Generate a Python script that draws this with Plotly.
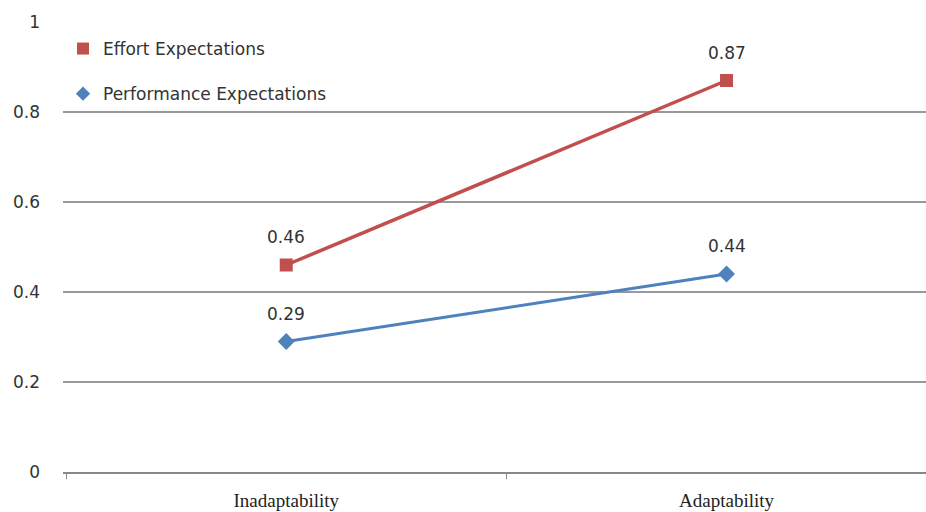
import plotly.graph_objects as go

categories = ["Inadaptability", "Adaptability"]
effort = [0.46, 0.87]
performance = [0.29, 0.44]
effort_name = "Effort Expectations"
perf_name = "Performance Expectations"
y_ticks = [0, 0.2, 0.4, 0.6, 0.8, 1]
y_tick_labels = ["0", "0.2", "0.4", "0.6", "0.8", "1"]

red = "#C0504D"
blue = "#4F81BD"

fig = go.Figure()
fig.add_trace(go.Scatter(
    x=categories, y=effort, name=effort_name, mode="lines+markers",
    line=dict(color=red, width=3.5),
    marker=dict(symbol="square", size=13, color=red),
    showlegend=False,
))
fig.add_trace(go.Scatter(
    x=categories, y=performance, name=perf_name, mode="lines+markers",
    line=dict(color=blue, width=3),
    marker=dict(symbol="diamond", size=13, color=blue),
    showlegend=False,
))
# legend entries (markers only, as in the reference)
fig.add_trace(go.Scatter(
    x=[None], y=[None], name=effort_name, mode="markers",
    marker=dict(symbol="square", size=12, color=red), legendgroup="e",
))
fig.add_trace(go.Scatter(
    x=[None], y=[None], name=perf_name, mode="markers",
    marker=dict(symbol="diamond", size=11, color=blue), legendgroup="p",
))

for vals in (effort, performance):
    for c, v in zip(categories, vals):
        fig.add_annotation(x=c, y=v, text=f"{v:.2f}", showarrow=False,
                           yshift=28, font=dict(family="DejaVu Sans", size=17, color="#333"))

fig.update_layout(
    width=926, height=512,
    margin=dict(l=63, r=0, t=22, b=40),
    paper_bgcolor="white", plot_bgcolor="white",
    showlegend=True,
    legend=dict(x=0.0, y=0.98, xanchor="left", yanchor="top",
                font=dict(family="DejaVu Sans", size=17, color="#333"),
                tracegroupgap=20, bgcolor="rgba(0,0,0,0)", itemwidth=30),
    xaxis=dict(type="category", categoryorder="array", categoryarray=categories,
               range=[-0.507, 1.453], tickson="boundaries", ticks="outside", ticklen=5,
               tickcolor="#888", showline=True, linecolor="#888", linewidth=2,
               showgrid=False, zeroline=False, ticklabelstandoff=10,
               tickfont=dict(family="Liberation Serif", size=19, color="#222")),
    yaxis=dict(range=[0, 1.0], tickvals=y_ticks, ticktext=y_tick_labels,
               showgrid=True, gridcolor="#999", gridwidth=1.5, zeroline=False,
               showline=False, ticks="", ticklabelstandoff=22,
               tickfont=dict(family="DejaVu Sans", size=17, color="#333")),
)

fig.write_html("out.html")
